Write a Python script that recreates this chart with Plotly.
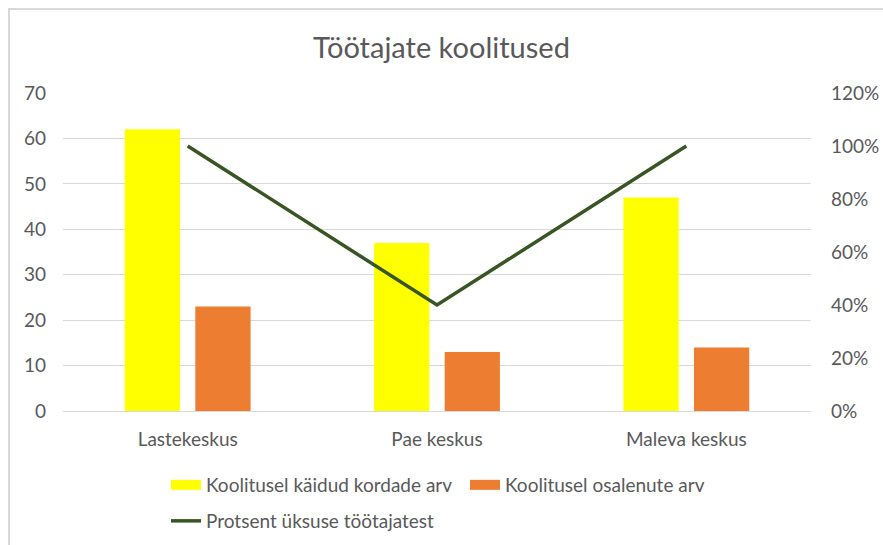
import plotly.graph_objects as go

categories = ["Lastekeskus", "Pae keskus", "Maleva keskus"]
kaidud = [62, 37, 47]
osalenud = [23, 13, 14]
protsent = [1.00, 0.40, 1.00]

name_kaidud = "Koolitusel käidud kordade arv"
name_osalenud = "Koolitusel osalenute arv"
name_protsent = "Protsent üksuse töötajatest"

YELLOW = "#FFFF00"
ORANGE = "#ED7D31"
GREEN = "#375623"
TXT = "#595959"
GRID = "#D9D9D9"
FONT = "Lato"
FS = 19

fig = go.Figure()
fig.add_trace(go.Bar(x=categories, y=kaidud, name=name_kaidud,
                     marker=dict(color=YELLOW, line=dict(width=0)),
                     showlegend=False))
fig.add_trace(go.Bar(x=categories, y=osalenud, name=name_osalenud,
                     marker=dict(color=ORANGE, line=dict(width=0)),
                     showlegend=False))
fig.add_trace(go.Scatter(x=categories, y=protsent, name=name_protsent,
                         mode="lines", yaxis="y2",
                         line=dict(color=GREEN, width=3.5),
                         showlegend=False))

# legend-only entries (wide swatches like the reference)
fig.add_trace(go.Scatter(x=[None], y=[None], mode="lines", name=name_kaidud,
                         line=dict(color=YELLOW, width=10), legend="legend"))
fig.add_trace(go.Scatter(x=[None], y=[None], mode="lines", name=name_osalenud,
                         line=dict(color=ORANGE, width=10), legend="legend"))
fig.add_trace(go.Scatter(x=[None], y=[None], mode="lines", name=name_protsent,
                         line=dict(color=GREEN, width=3.5), legend="legend2"))

L, R, T, B = 63, 72, 93, 134
W, H = 883, 545
pw, ph = W - L - R, H - T - B

def px_x(p):
    return (p - L) / pw

def px_y(p):
    return (H - B - p) / ph

fig.update_layout(
    width=W, height=H, autosize=False,
    margin=dict(l=L, r=R, t=T, b=B, pad=0, autoexpand=False),
    paper_bgcolor="white", plot_bgcolor="white",
    font=dict(family=FONT, color=TXT, size=FS),
    title=dict(text="Töötajate koolitused", x=0.5, xanchor="center",
               y=1 - 48 / H, yanchor="middle", automargin=False,
               font=dict(family=FONT, size=29, color=TXT)),
    barmode="group", bargap=0.434, bargroupgap=0.217,
    xaxis=dict(showgrid=False, showline=True, linecolor=GRID, linewidth=1,
               ticks="", tickfont=dict(size=FS, color=TXT),
               ticklabelstandoff=11, automargin=False),
    yaxis=dict(range=[0, 70], dtick=10, showgrid=True, gridcolor=GRID,
               gridwidth=1, zeroline=False, showline=False, ticks="",
               tickfont=dict(size=FS, color=TXT), ticklabelstandoff=16,
               automargin=False),
    yaxis2=dict(range=[0, 1.2], dtick=0.2, tickformat=".0%", overlaying="y",
                side="right", showgrid=False, zeroline=False, showline=False,
                ticks="", tickfont=dict(size=FS, color=TXT),
                ticklabelstandoff=19, automargin=False),
    legend=dict(orientation="h", x=px_x(166), xanchor="left",
                y=px_y(485), yanchor="middle", entrywidth=254,
                entrywidthmode="pixels",
                font=dict(family=FONT, size=FS, color=TXT),
                bgcolor="rgba(0,0,0,0)"),
    legend2=dict(orientation="h", x=px_x(166), xanchor="left",
                 y=px_y(521), yanchor="middle",
                 font=dict(family=FONT, size=FS, color=TXT),
                 bgcolor="rgba(0,0,0,0)"),
    shapes=[dict(type="rect", xref="paper", yref="paper",
                 x0=px_x(9), x1=px_x(W + 20), y0=px_y(H + 20), y1=px_y(9),
                 line=dict(color=GRID, width=2), fillcolor="rgba(0,0,0,0)",
                 layer="below")],
)

fig.write_html("out.html",
               config={"displayModeBar": False, "responsive": False},
               post_script="document.body.style.margin='0';"
                           "document.body.style.overflow='hidden';")
